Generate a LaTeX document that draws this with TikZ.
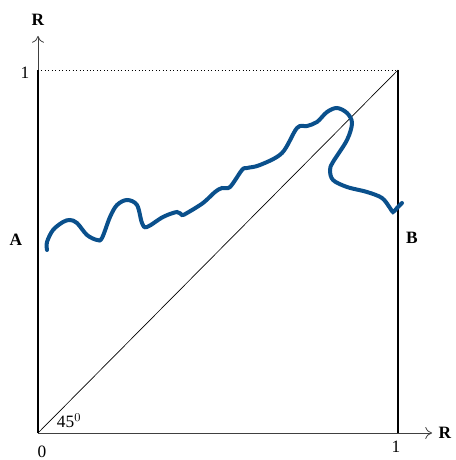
\documentclass[tikz,border=0pt]{standalone}
\usepackage{fontspec}
\setmainfont{Liberation Serif}
\definecolor{pathblue}{RGB}{10,80,140}
\usetikzlibrary{arrows.meta,positioning}

\begin{document}
\begin{tikzpicture}[x=0.75pt, y=0.75pt, font=\fontsize{13}{15}\selectfont]
  \useasboundingbox (-38,-27) rectangle (417,433);

  % corners of the box
  \coordinate (O) at (0,0);
  \coordinate (X1) at (360,0);
  \coordinate (Y1) at (0,363);
  \coordinate (T) at (360,363);
  \coordinate (Xend) at (394,0);
  \coordinate (Yend) at (0,397);

  % axes
  \draw[-{To[length=5pt,width=9pt]}, line width=0.6pt, black!75] (O) -- (Xend);
  \draw[-{To[length=5pt,width=9pt]}, line width=0.6pt, black!75] (O) -- (Yend);
  \draw[line width=2.2pt] (O) -- (Y1);
  \draw[line width=1.3pt] (X1) -- (T);
  \draw[dotted, line width=0.6pt] (Y1) -- (T);
  \draw[line width=0.5pt] (O) -- (T);

  % labels
  \node[font=\fontsize{13}{15}\selectfont\bfseries] (rY) at (0,413) {R};
  \node[font=\fontsize{13}{15}\selectfont\bfseries] (rX) at (407,0) {R};
  \node (oneY) at (-13,360) {1};
  \node (oneX) at (358,-14) {1};
  \node (zero) at (4,-19) {0};
  \node (ang) at (31,12) {45$^0$};
  \node[font=\fontsize{13}{15}\selectfont\bfseries] (lA) at (-22,193) {A};
  \node[font=\fontsize{13}{15}\selectfont\bfseries] (lB) at (374,195) {B};

  % wiggly path from A to B
  \draw[pathblue, line width=3pt, line cap=round] plot[smooth, tension=0.55] coordinates {
    (9,183) (9,191) (15,203) (25,211) (32,213) (39,210) (49,198) (59,193)
    (64,195) (72,216) (79,228) (89,233) (99,228) (104,210) (109,206)
    (125,216) (139,221) (144,218) (149,220) (165,230) (177,241) (184,245)
    (192,246) (204,263) (209,265) (222,268) (244,280) (259,305) (269,307)
    (279,311) (289,321) (299,325) (309,320) (314,310) (309,293) (295,271)
    (292,263) (295,253) (309,246) (329,241) (344,235) (352,225) (355,221)
    (359,225) (364,230)};
\end{tikzpicture}
\end{document}
